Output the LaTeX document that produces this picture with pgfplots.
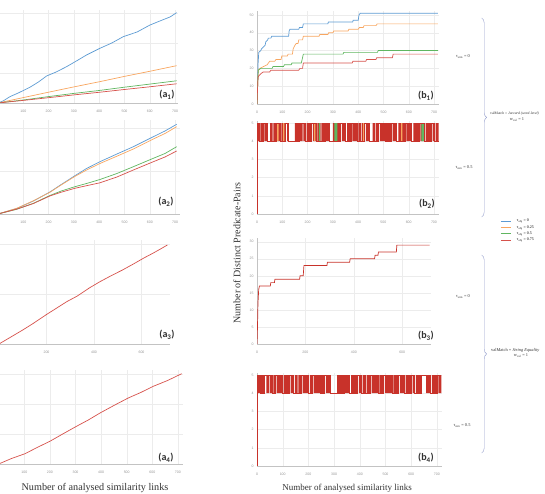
\documentclass[border=0pt]{standalone}
\usepackage{fontspec}
\setmainfont{Liberation Serif}
\newfontfamily\carl{Carlito}
\newfontfamily\lsans{Liberation Sans}
\usepackage{pgfplots}
\pgfplotsset{compat=1.18}
\usetikzlibrary{decorations.pathreplacing}
\definecolor{cblue}{RGB}{93,155,211}
\definecolor{corange}{RGB}{248,166,96}
\definecolor{cgreen}{RGB}{96,182,96}
\definecolor{cred}{RGB}{214,82,76}
\definecolor{cdred}{RGB}{200,50,42}
\definecolor{gridc}{RGB}{236,236,236}
\definecolor{axc}{RGB}{195,195,195}
\definecolor{tickc}{RGB}{150,150,150}
\definecolor{bracec}{RGB}{150,160,205}
\definecolor{txt}{RGB}{50,50,50}
\pgfplotsset{
  base/.style={scale only axis, anchor=south west, xmin=0, xmax=720, ymin=0,
    axis x line*=bottom, axis y line*=left,
    axis line style={draw=axc, line width=0.4pt},
    grid=major, grid style={draw=gridc, line width=0.3pt},
    major tick length=0pt,
    ticklabel style={font=\lsans\fontsize{3.5}{4}\selectfont, text=tickc},
    xticklabel style={yshift=-3.5pt},
    /pgf/number format/assume math mode=true,
    /pgf/number format/1000 sep={},
    xtick={0,100,...,700}},
  lp/.style={base, yticklabels={}, xtick={100,200,...,700}},
  rp/.style={base},
  ln/.style={line width=0.7pt},
}
\begin{document}
\begin{tikzpicture}
\path[use as bounding box] (0pt,0pt) rectangle (545pt,494pt);
\clip (0pt,0pt) rectangle (545pt,494pt);

% ---------- a1 ----------
\begin{axis}[lp, at={(-2pt,391pt)}, width=180.1pt, height=93pt, xmax=712, ymax=93, ytick={30,60,90}]
\addplot[ln, cblue] coordinates {(0,0)(20,2)(47,6.3)(80,10)(126,15.7)(160,21)(192,27)(230,31)(271,36.3)(310,42)(350,48)(403,54.7)(450,60)(495,66.3)(550,71)(601,78)(650,83)(680,86)(706,90.3)};
\addplot[ln, corange] coordinates {(0,0)(100,5.4)(200,10.8)(300,16.1)(400,21.2)(500,26.6)(600,31.7)(706,37.3)};
\addplot[ln, cgreen] coordinates {(0,0)(100,3.0)(200,6.4)(300,9.6)(400,12.5)(500,15.8)(600,18.9)(706,22.2)};
\addplot[ln, cred] coordinates {(0,0)(100,2.6)(200,5.3)(300,8.1)(400,10.7)(500,13.5)(600,16.2)(706,19.2)};
\end{axis}

% ---------- a2 ----------
\begin{axis}[lp, at={(-2pt,280pt)}, width=182.2pt, height=94pt, ymax=94, ytick={43,86}]
\addplot[ln, cblue] coordinates {(0,0)(74,5.5)(140,13)(205,22)(250,29.5)(304,38.3)(350,45.5)(403,52.3)(470,60)(535,67.3)(614,77.3)(660,83)(706,89.7)};
\addplot[ln, corange] coordinates {(0,0)(74,5.7)(140,13.2)(205,21.7)(250,29.1)(304,37.6)(350,44)(403,50.5)(470,57.8)(535,65)(614,75)(660,80.5)(706,87.3)};
\addplot[ln, cgreen] coordinates {(0,0)(74,4.7)(140,10.7)(205,18.5)(250,23)(304,27.3)(350,30.5)(403,34.5)(470,40.5)(535,47.3)(614,55.7)(660,60.5)(706,67.3)};
\addplot[ln, cred] coordinates {(0,0)(74,4.9)(140,10.5)(205,18)(250,21.8)(304,25.7)(350,28.3)(403,31.2)(470,37)(535,44)(614,52.3)(660,57)(706,63)};
\end{axis}

% ---------- a3 ----------
\begin{axis}[lp, at={(-1pt,150pt)}, width=171pt, height=104pt, ymax=104, xtick={200,400,600}, ytick={50,100}]
\addplot[ln, cred] coordinates {(0,0)(50,7)(100,14)(145,20.7)(200,29.5)(250,37)(285,42.3)(330,48)(380,56)(425,62.3)(470,68)(520,74)(566,80)(610,86)(650,91)(680,95)(709,99)};
\end{axis}

% ---------- a4 ----------
\begin{axis}[lp, at={(-1.3pt,30pt)}, width=184.3pt, height=94pt, ymax=94, ytick={30,60,90}]
\addplot[ln, cred] coordinates {(0,0)(50,5.5)(103,10.3)(150,16.5)(200,22.7)(250,30)(304,37.7)(350,44)(396,51)(450,58.5)(506,66)(555,71.5)(604,77.7)(660,83.5)(715,90.3)};
\end{axis}

% ---------- b1 ----------
\begin{axis}[rp, at={(257pt,390pt)}, width=182.2pt, height=92.6pt, ymax=52, ytick={0,10,...,50},
  legend style={at={(1.335,-1.231)}, anchor=north west, draw=none, fill=none,
    font=\fontsize{4}{4.5}\selectfont, inner sep=0pt, row sep=0.6pt,
    nodes={inner sep=0.8pt}},
  legend cell align=left,
  legend image code/.code={\draw[#1, line width=0.8pt] (0pt,0pt) -- (10pt,0pt); \path (15pt,0pt);}]
\addplot[ln, cblue] coordinates {(0,0)(2,10)(4,22)(7,29)(15,30)(18,31)(25,32)(32,33)(35,35)(42,36)(45,37)(55,37)(58,38)(125,38)(127,41)(130,42)(165,42)(168,43)(180,43)(183,45)(280,45)(282,46)(378,46)(380,47)(400,47)(403,50)(408,51)(715,51)};
\addplot[ln, corange] coordinates {(0,0)(3,12)(5,19)(12,20)(25,21)(40,22)(50,24)(70,24)(75,25)(95,25)(98,27)(120,27)(123,28)(140,28)(143,31)(150,33)(155,34)(162,34)(165,36)(180,36)(183,38)(245,38)(248,39)(280,39)(283,40)(300,40)(303,41)(360,41)(363,42)(400,42)(405,43)(420,43)(423,44)(470,44)(475,45)(715,45)};
\addplot[ln, cgreen] coordinates {(0,0)(3,12)(5,19)(15,20)(60,20)(63,21)(105,21)(108,22)(135,22)(138,23)(175,23)(180,26)(183,28)(340,28)(343,29)(476,29)(479,30)(715,30)};
\addplot[ln, cred] coordinates {(0,0)(2,8)(4,15)(8,16)(15,17)(25,18)(50,18)(55,19)(165,19)(170,20)(180,20)(183,23)(376,23)(379,24)(430,24)(433,25)(470,25)(473,26)(535,26)(538,28)(715,28)};
\legend{τ\textsubscript{obj} = 0, τ\textsubscript{obj} = 0.25, τ\textsubscript{obj} = 0.5, τ\textsubscript{obj} = 0.75}
\end{axis}

% ---------- b2 ----------
\begin{axis}[rp, at={(257pt,280pt)}, width=182pt, height=92.8pt, ymax=5.1, ytick={0,1,...,5}, unbounded coords=jump]
\addplot[fill=cdred, draw=none] coordinates {
(2,4)(2,5)(9,5)(9,4)(9,nan)
(13,4)(13,5)(24,5)(24,4)(24,nan)
(29,4)(29,5)(41,5)(41,4)(41,nan)
(52,4)(52,5)(62,5)(62,4)(62,nan)
(65,4)(65,5)(76,5)(76,4)(76,nan)
(81,4)(81,5)(90,5)(90,4)(90,nan)
(96,4)(96,5)(113,5)(113,4)(113,nan)
(119,4)(119,5)(124,5)(124,4)(124,nan)
(150,4)(150,5)(166,5)(166,4)(166,nan)
(171,4)(171,5)(180,5)(180,4)(180,nan)
(183,4)(183,5)(190,5)(190,4)(190,nan)
(196,4)(196,5)(214,5)(214,4)(214,nan)
(221,4)(221,5)(233,5)(233,4)(233,nan)
(239,4)(239,5)(252,5)(252,4)(252,nan)
(255,4)(255,5)(268,5)(268,4)(268,nan)
(273,4)(273,5)(286,5)(286,4)(286,nan)
(300,4)(300,5)(331,5)(331,4)(331,nan)
(336,4)(336,5)(349,5)(349,4)(349,nan)
(357,4)(357,5)(371,5)(371,4)(371,nan)
(377,4)(377,5)(396,5)(396,4)(396,nan)
(401,4)(401,5)(412,5)(412,4)(412,nan)
(415,4)(415,5)(426,5)(426,4)(426,nan)
(431,4)(431,5)(446,5)(446,4)(446,nan)
(457,4)(457,5)(468,5)(468,4)(468,nan)
(471,4)(471,5)(481,5)(481,4)(481,nan)
(486,4)(486,5)(506,5)(506,4)(506,nan)
(511,4)(511,5)(531,5)(531,4)(531,nan)
(537,4)(537,5)(551,5)(551,4)(551,nan)
(559,4)(559,5)(586,5)(586,4)(586,nan)
(591,4)(591,5)(611,5)(611,4)(611,nan)
(619,4)(619,5)(641,5)(641,4)(641,nan)
(646,4)(646,5)(661,5)(661,4)(661,nan)
(667,4)(667,5)(691,5)(691,4)(691,nan)
(695,4)(695,5)(703,5)(703,4)(703,nan)
(707,4)(707,5)(718,5)(718,4)};
\addplot[fill=corange, draw=none] coordinates {
(78,4)(78,5)(86,5)(86,4)(86,nan)
(103,4)(103,5)(108,5)(108,4)(108,nan)
(226,4)(226,5)(231,5)(231,4)(231,nan)
(420,4)(420,5)(424,5)(424,4)(424,nan)
(570,4)(570,5)(575,5)(575,4)};
\addplot[fill=cgreen, draw=none] coordinates {
(245,4)(245,5)(250,5)(250,4)(250,nan)
(306,4)(306,5)(318,5)(318,4)(318,nan)
(650,4)(650,5)(660,5)(660,4)};
\addplot[const plot, cdred, line width=0.5pt] coordinates {(0,0)(0.3,2)(0.6,5)(9,4)(24,5)(41,4)(76,5)(90,4)(113,5)(124,4)(166,5)(190,4)(214,5)(233,4)(268,5)(286,4)(331,5)(349,4)(371,5)(396,4)(426,5)(446,4)(481,5)(506,4)(531,5)(551,4)(586,5)(611,4)(641,5)(661,4)(691,5)(703,4)(718,4)};
\end{axis}

% ---------- b3 ----------
\begin{axis}[rp, at={(257pt,150pt)}, width=174.2pt, height=105.7pt, ymax=31, xtick={0,200,400,600}, ytick={0,5,...,30}]
\addplot[ln, cdred] coordinates {(0,0)(2,5)(4,12)(7,16)(10,17)(55,17)(57,18)(72,18)(74,19)(176,19)(178,20)(191,20)(194,23)(289,23)(291,24)(383,24)(385,25)(486,25)(488,26)(500,26)(502,27)(576,27)(578,29)(713,29)};
\end{axis}

% ---------- b4 ----------
\begin{axis}[rp, at={(257pt,28pt)}, width=185pt, height=92.8pt, ymax=5.1, ytick={0,1,...,5}, unbounded coords=jump]
\addplot[fill=cdred, draw=none] coordinates {
(2,4)(2,5)(12,5)(12,4)(12,nan)
(16,4)(16,5)(30,5)(30,4)(30,nan)
(36,4)(36,5)(46,5)(46,4)(46,nan)
(49,4)(49,5)(58,5)(58,4)(58,nan)
(64,4)(64,5)(70,5)(70,4)(70,nan)
(76,4)(76,5)(98,5)(98,4)(98,nan)
(104,4)(104,5)(125,5)(125,4)(125,nan)
(131,4)(131,5)(140,5)(140,4)(140,nan)
(147,4)(147,5)(158,5)(158,4)(158,nan)
(161,4)(161,5)(172,5)(172,4)(172,nan)
(178,4)(178,5)(200,5)(200,4)(200,nan)
(206,4)(206,5)(214,5)(214,4)(214,nan)
(220,4)(220,5)(245,5)(245,4)(245,nan)
(250,4)(250,5)(262,5)(262,4)(262,nan)
(268,4)(268,5)(285,5)(285,4)(285,nan)
(312,4)(312,5)(338,5)(338,4)(338,nan)
(343,4)(343,5)(360,5)(360,4)(360,nan)
(366,4)(366,5)(390,5)(390,4)(390,nan)
(396,4)(396,5)(405,5)(405,4)(405,nan)
(411,4)(411,5)(424,5)(424,4)(424,nan)
(427,4)(427,5)(440,5)(440,4)(440,nan)
(446,4)(446,5)(470,5)(470,4)(470,nan)
(476,4)(476,5)(492,5)(492,4)(492,nan)
(498,4)(498,5)(525,5)(525,4)(525,nan)
(531,4)(531,5)(548,5)(548,4)(548,nan)
(556,4)(556,5)(572,5)(572,4)(572,nan)
(578,4)(578,5)(600,5)(600,4)(600,nan)
(606,4)(606,5)(612,5)(612,4)(612,nan)
(618,4)(618,5)(641,5)(641,4)(641,nan)
(658,4)(658,5)(675,5)(675,4)(675,nan)
(681,4)(681,5)(700,5)(700,4)(700,nan)
(706,4)(706,5)(718,5)(718,4)};
\addplot[const plot, cdred, line width=0.5pt] coordinates {(0,0)(0.3,2)(0.6,5)(12,4)(30,5)(58,4)(70,5)(98,4)(125,5)(140,4)(172,5)(200,4)(214,5)(245,4)(262,5)(285,4)(338,5)(360,4)(390,5)(405,4)(440,5)(470,4)(492,5)(525,4)(548,5)(572,4)(600,5)(612,4)(641,5)(675,4)(700,5)(718,5)};
\end{axis}

% ---------- labels ----------
\begin{scope}[every node/.style={font=\carl\bfseries\fontsize{10}{12}\selectfont, text=txt}]
\node at (167pt,399pt) {(a\textsubscript{1})};
\node at (166pt,292pt) {(a\textsubscript{2})};
\node at (167pt,159pt) {(a\textsubscript{3})};
\node at (166pt,36pt) {(a\textsubscript{4})};
\node at (426pt,398pt) {(b\textsubscript{1})};
\node at (427pt,290pt) {(b\textsubscript{2})};
\node at (426pt,158pt) {(b\textsubscript{3})};
\node at (426pt,36pt) {(b\textsubscript{4})};
\end{scope}

\node[rotate=90, font=\fontsize{10}{12}\selectfont, text=txt] at (237pt,241pt) {Number of Distinct Predicate-Pairs};
\node[font=\fontsize{10.2}{12}\selectfont, text=txt] at (95pt,6pt) {Number of analysed similarity links};
\node[font=\fontsize{9}{11}\selectfont, text=txt] at (347pt,6pt) {Number of analysed similarity links};

% braces
\draw[decorate, decoration={brace, amplitude=5pt}, draw=bracec, line width=0.4pt] (481.7pt,476pt) -- (481.7pt,277pt);
\draw[decorate, decoration={brace, amplitude=5pt}, draw=bracec, line width=0.4pt] (481.7pt,239pt) -- (481.7pt,41pt);

\begin{scope}[every node/.style={font=\fontsize{4.4}{5}\selectfont, text=txt, inner sep=0pt}]
\node at (463pt,437pt) {τ\textsubscript{sim} = 0};
\node at (464pt,326pt) {τ\textsubscript{sim} = 0.5};
\node[anchor=west, font=\fontsize{3.7}{4.2}\selectfont] at (490pt,380pt) {valMatch = \textit{Jaccard (word-level)}};
\node at (517pt,374.5pt) {w\textsubscript{val} = 1};
\node at (463pt,197pt) {τ\textsubscript{sim} = 0};
\node at (462pt,68pt) {τ\textsubscript{sim} = 0.5};
\node[anchor=west] at (491pt,144pt) {valMatch = \textit{String Equality}};
\node at (521pt,138.5pt) {w\textsubscript{val} = 1};
\end{scope}
\end{tikzpicture}
\end{document}
